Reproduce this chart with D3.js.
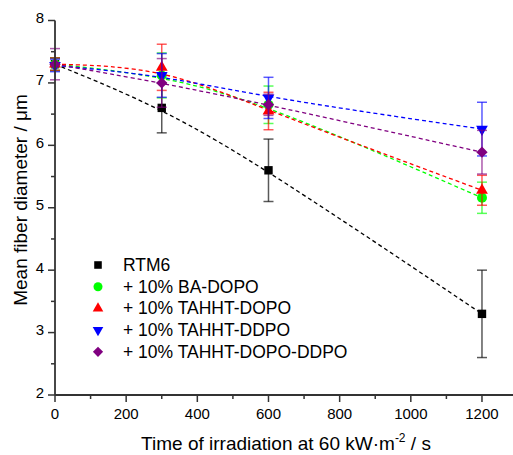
<!DOCTYPE html>
<html>
<head>
<meta charset="utf-8">
<script src="https://cdn.jsdelivr.net/npm/d3@7"></script>
<style>
  body { margin: 0; background: #fff; }
  text { font-family: "Liberation Sans", Arial, sans-serif; fill: #000; }
</style>
</head>
<body>
<div id="chart"></div>
<script>
var width = 513, height = 455;

// irradiation time (s)
var times = [0, 300, 600, 1200];

var seriesNames = ["RTM6", "+ 10% BA-DOPO", "+ 10% TAHHT-DOPO", "+ 10% TAHHT-DDPO", "+ 10% TAHHT-DOPO-DDPO"];
var seriesColors = ["#000000", "#00ff00", "#ff0000", "#0000ff", "#800080"];
var seriesSymbols = ["square", "circle", "triangle", "triangleDown", "diamond"];

// mean fiber diameter (µm)
var rtm6 = [7.30, 6.60, 5.60, 3.30];
var baDopo = [7.30, 7.12, 6.65, 5.16];
var tahhtDopo = [7.30, 7.25, 6.55, 5.28];
var tahhtDdpo = [7.28, 7.12, 6.76, 6.26];
var tahhtDopoDdpo = [7.30, 7.00, 6.65, 5.89];

// standard deviations (µm)
var rtm6Err = [0.10, 0.40, 0.50, 0.70];
var baDopoErr = [0.10, 0.36, 0.30, 0.25];
var tahhtDopoErr = [0.10, 0.37, 0.30, 0.24];
var tahhtDdpoErr = [0.10, 0.35, 0.33, 0.43];
var tahhtDopoDdpoErr = [0.25, 0.39, 0.17, 0.35];

var values = [rtm6, baDopo, tahhtDopo, tahhtDdpo, tahhtDopoDdpo];
var errors = [rtm6Err, baDopoErr, tahhtDopoErr, tahhtDdpoErr, tahhtDopoDdpoErr];

var xTicks = [0, 200, 400, 600, 800, 1000, 1200];
var yTicks = [2, 3, 4, 5, 6, 7, 8];

var x = d3.scaleLinear().domain([0, 1290]).range([55, 514]);
var y = d3.scaleLinear().domain([2, 8]).range([395, 20.5]);

var svg = d3.select("#chart").append("svg")
    .attr("width", width)
    .attr("height", height);

var axisColor = "#333";

// marker shapes
function marker(sel, kind, color, s) {
    if (kind == "square") {
        sel.append("rect").attr("x", -4.2 * s).attr("y", -4.2 * s)
            .attr("width", 8.4 * s).attr("height", 8.4 * s).attr("fill", color);
    } else if (kind == "circle") {
        sel.append("circle").attr("r", 5 * s).attr("fill", color);
    } else if (kind == "triangle") {
        sel.append("path").attr("d", d3.symbol().type(d3.symbolTriangle).size(60 * s * s)).attr("fill", color);
    } else if (kind == "triangleDown") {
        sel.append("path").attr("d", d3.symbol().type(d3.symbolTriangle).size(60 * s * s))
            .attr("transform", "rotate(180)").attr("fill", color);
    } else {
        sel.append("rect").attr("x", -4 * s).attr("y", -4 * s)
            .attr("width", 8 * s).attr("height", 8 * s)
            .attr("transform", "rotate(45)").attr("fill", color);
    }
}

// B-spline connection like the original
var line = d3.line()
    .x(function(d) { return x(d.t); })
    .y(function(d) { return y(d.v); })
    .curve(d3.curveBasis);

values.forEach(function(vals, i) {
    var pts = times.map(function(t, j) { return {t: t, v: vals[j], e: errors[i][j]}; });
    var g = svg.append("g");

    g.append("path")
        .datum(pts)
        .attr("d", line)
        .attr("fill", "none")
        .attr("stroke", seriesColors[i])
        .attr("stroke-width", 1.3)
        .attr("stroke-dasharray", "4,3");

    var eb = g.selectAll(".err").data(pts).enter().append("g")
        .attr("stroke", seriesColors[i])
        .attr("stroke-opacity", 0.65)
        .attr("stroke-width", 1.5);
    eb.append("line")
        .attr("x1", function(d) { return x(d.t); })
        .attr("x2", function(d) { return x(d.t); })
        .attr("y1", function(d) { return y(d.v - d.e); })
        .attr("y2", function(d) { return y(d.v + d.e); });
    [-1, 1].forEach(function(sg) {
        eb.append("line")
            .attr("x1", function(d) { return x(d.t) - 5; })
            .attr("x2", function(d) { return x(d.t) + 5; })
            .attr("y1", function(d) { return y(d.v + sg * d.e); })
            .attr("y2", function(d) { return y(d.v + sg * d.e); });
    });

    g.selectAll(".pt").data(pts).enter().append("g")
        .attr("transform", function(d) { return "translate(" + x(d.t) + "," + y(d.v) + ")"; })
        .each(function() { marker(d3.select(this), seriesSymbols[i], seriesColors[i], 1); });
});

// axes
var xAxis = svg.append("g").attr("transform", "translate(0," + y(2) + ")");
xAxis.append("line").attr("x1", x(0)).attr("x2", 514)
    .attr("stroke", axisColor).attr("stroke-width", 1.8);
xAxis.selectAll(".minor").data(d3.range(100, 1300, 200)).enter().append("line")
    .attr("x1", function(d) { return x(d); }).attr("x2", function(d) { return x(d); })
    .attr("y1", 0).attr("y2", 4).attr("stroke", axisColor).attr("stroke-width", 1.5);
xAxis.selectAll(".major").data(xTicks).enter().append("line")
    .attr("x1", function(d) { return x(d); }).attr("x2", function(d) { return x(d); })
    .attr("y1", 0).attr("y2", 7).attr("stroke", axisColor).attr("stroke-width", 1.5);
xAxis.selectAll(".lbl").data(xTicks).enter().append("text")
    .attr("x", function(d) { return x(d); })
    .attr("y", 24)
    .attr("text-anchor", "middle")
    .style("font-size", "15px")
    .text(function(d) { return d; });

var yAxis = svg.append("g").attr("transform", "translate(" + x(0) + ",0)");
yAxis.append("line").attr("y1", y(2)).attr("y2", y(8))
    .attr("stroke", axisColor).attr("stroke-width", 1.8);
yAxis.selectAll(".minor").data(d3.range(2.5, 8, 1)).enter().append("line")
    .attr("y1", function(d) { return y(d); }).attr("y2", function(d) { return y(d); })
    .attr("x1", 0).attr("x2", -4).attr("stroke", axisColor).attr("stroke-width", 1.5);
yAxis.selectAll(".major").data(yTicks).enter().append("line")
    .attr("y1", function(d) { return y(d); }).attr("y2", function(d) { return y(d); })
    .attr("x1", 0).attr("x2", -7).attr("stroke", axisColor).attr("stroke-width", 1.5);
yAxis.selectAll(".lbl").data(yTicks).enter().append("text")
    .attr("x", -11)
    .attr("y", function(d) { return y(d) + 2.5; })
    .attr("text-anchor", "end")
    .style("font-size", "15px")
    .text(function(d) { return d; });

// axis titles
var xt = svg.append("text")
    .attr("x", 286).attr("y", 450)
    .attr("text-anchor", "middle")
    .style("font-size", "19px");
xt.append("tspan").text("Time of irradiation at 60 kW\u00b7m");
xt.append("tspan").attr("dy", -8).style("font-size", "12px").text("-2");
xt.append("tspan").attr("dy", 8).text(" / s");

svg.append("text")
    .attr("transform", "translate(27," + 200 + ") rotate(-90)")
    .attr("text-anchor", "middle")
    .style("font-size", "19px")
    .text("Mean fiber diameter / \u03bcm");

// legend
var legend = svg.append("g");
seriesNames.forEach(function(name, i) {
    var ly = 265 + i * 21.7;
    var lg = legend.append("g").attr("transform", "translate(98," + ly + ")");
    marker(lg, seriesSymbols[i], seriesColors[i], 0.9);
    legend.append("text")
        .attr("x", 123).attr("y", ly + 6)
        .style("font-size", "17.5px")
        .text(name);
});
</script>
</body>
</html>
